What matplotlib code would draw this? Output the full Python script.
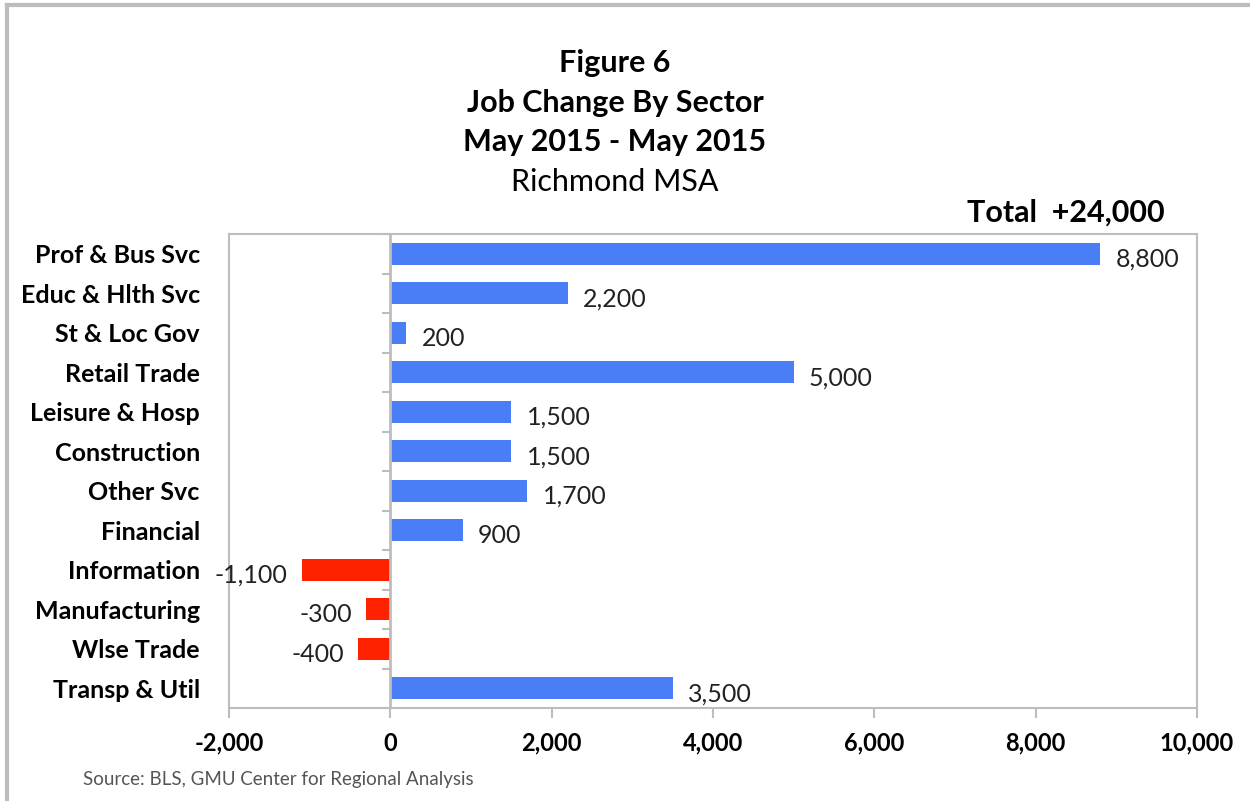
import matplotlib.pyplot as plt
from matplotlib.ticker import FuncFormatter
from matplotlib.lines import Line2D

plt.rcParams['font.family'] = ['Lato', 'DejaVu Sans']

sectors = ["Prof & Bus Svc", "Educ & Hlth Svc", "St & Loc Gov", "Retail Trade",
           "Leisure & Hosp", "Construction", "Other Svc", "Financial",
           "Information", "Manufacturing", "Wlse Trade", "Transp & Util"]
changes = [8800, 2200, 200, 5000, 1500, 1500, 1700, 900, -1100, -300, -400, 3500]
x_ticks = [-2000, 0, 2000, 4000, 6000, 8000, 10000]

BLUE = "#4A7EF6"
RED = "#FF2200"
GRAY = "#BDBDBD"

fig = plt.figure(figsize=(12.5, 8.01), dpi=100)
ax = fig.add_axes([229 / 1250, 1 - 708 / 801, (1197 - 229) / 1250, (708 - 234) / 801])

pos = list(range(len(sectors)))
colors = [BLUE if v >= 0 else RED for v in changes]
ax.barh(pos, changes, height=0.56, color=colors, zorder=2)

for y, v in zip(pos, changes):
    if v >= 0:
        ax.annotate(f"{v:,}", (v, y), xytext=(11, -4), textcoords="offset points",
                    ha="left", va="center", fontsize=18, color="#222222")
    else:
        ax.annotate(f"{v:,}", (v, y), xytext=(-10, -4), textcoords="offset points",
                    ha="right", va="center", fontsize=18, color="#222222")

ax.set_xlim(-2000, 10000)
ax.set_ylim(len(sectors) - 0.5, -0.5)
ax.set_xticks(x_ticks)
ax.xaxis.set_major_formatter(FuncFormatter(lambda v, p: f"{int(v):,}"))
for lbl in ax.get_xticklabels():
    lbl.set_fontweight("bold")
ax.tick_params(axis="x", length=7, width=1.5, color=GRAY, labelsize=17, pad=10)

ax.set_yticks(pos)
ax.set_yticklabels(sectors, fontweight="bold", fontsize=18)
ax.tick_params(axis="y", length=0, pad=21)

for s in ax.spines.values():
    s.set_color(GRAY)
    s.set_linewidth(1.5)

# zero axis with category separator ticks
ax.axvline(0, color=GRAY, lw=2, zorder=3)
sec = ax.secondary_yaxis(1 / 6)
sec.set_yticks([p + 0.5 for p in pos[:-1]] + [-0.5])
sec.set_yticklabels([])
sec.tick_params(length=6, width=1.5, color=GRAY)
sec.spines["left"].set_visible(False)

fig.text(615 / 1250, 1 - 63 / 801, "Figure 6", ha="center", va="center",
         fontsize=22, fontweight="bold")
fig.text(615 / 1250, 1 - 103 / 801, "Job Change By Sector", ha="center", va="center",
         fontsize=22, fontweight="bold")
fig.text(615 / 1250, 1 - 142 / 801, "May 2015 - May 2015", ha="center", va="center",
         fontsize=22, fontweight="bold")
fig.text(615 / 1250, 1 - 182 / 801, "Richmond MSA", ha="center", va="center",
         fontsize=22)
fig.text(1165 / 1250, 1 - 213 / 801, "Total  +24,000", ha="right", va="center",
         fontsize=22, fontweight="bold")
fig.text(83 / 1250, 1 - 779 / 801, "Source: BLS, GMU Center for Regional Analysis",
         ha="left", va="center", fontsize=13.5, color="#555555")

# outer frame (top and left edges)
fig.add_artist(Line2D([7 / 1250, 1], [1 - 5 / 801, 1 - 5 / 801], color=GRAY, lw=3,
                      transform=fig.transFigure))
fig.add_artist(Line2D([7 / 1250, 7 / 1250], [0, 1 - 5 / 801], color=GRAY, lw=3,
                      transform=fig.transFigure))

fig.savefig("out.png", dpi=100)
